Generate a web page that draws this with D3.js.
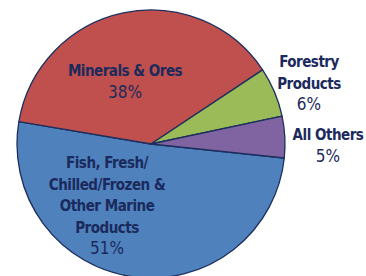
<!DOCTYPE html>
<html>
<head>
<meta charset="utf-8">
<script src="https://cdn.jsdelivr.net/npm/d3@7"></script>
<style>
  body { margin: 0; background: #fff; }
  text { font-family: "DejaVu Sans Condensed", "DejaVu Sans", sans-serif; font-weight: bold; }
</style>
</head>
<body>
<svg id="chart" width="366" height="276"></svg>
<script>
// Export shares, in percent (clockwise from the lower right).
var categories = ["Fish, Fresh/ Chilled/Frozen & Other Marine Products",
                  "Minerals & Ores",
                  "Forestry Products",
                  "All Others"];
var shares = [51, 38, 6, 5];
var colors = ["#4f81bd", "#c0504d", "#9bbb59", "#8064a2"];

// label lines for each slice (the last line is the percent).
var labelLines = [
  ["Fish, Fresh/", "Chilled/Frozen &", "Other Marine", "Products"],
  ["Minerals & Ores"],
  ["Forestry", "Products"],
  ["All Others"]
];

// Layout of the labels (centre x, first baseline y).
var labelAt = [[107, 168], [125, 76], [309, 67], [328, 140]];

var width = 366, height = 276;
var cx = 151, cy = 144, radius = 134;

var svg = d3.select("#chart");

var pie = d3.pie()
    .sort(null)
    .startAngle(96 * Math.PI / 180)
    .endAngle((96 + 360) * Math.PI / 180);

var arc = d3.arc()
    .innerRadius(0)
    .outerRadius(radius);

var g = svg.append("g")
    .attr("transform", "translate(" + cx + "," + cy + ")");

g.selectAll("path")
  .data(pie(shares))
  .enter().append("path")
  .attr("d", arc)
  .attr("fill", function(d, i) { return colors[i]; })
  .attr("stroke", "#1c2f5e")
  .attr("stroke-width", 1.3)
  .attr("stroke-linejoin", "round");

// labels
var lineH = 21.5;
labelLines.forEach(function(lines, i) {
  var all = lines.concat([shares[i] + "%"]);
  var t = svg.append("text")
    .attr("text-anchor", "middle")
    .attr("fill", "#1b2a5c")
    .attr("font-size", 15)
    .attr("letter-spacing", -0.5);
  all.forEach(function(s, j) {
    var last = j == all.length - 1;
    t.append("tspan")
      .attr("x", labelAt[i][0])
      .attr("y", labelAt[i][1] + j * lineH)
      .style("font-weight", last ? "normal" : "bold")
      .style("font-size", last ? "17px" : null)
      .attr("letter-spacing", last ? 0 : null)
      .text(s);
  });
});
</script>
</body>
</html>
